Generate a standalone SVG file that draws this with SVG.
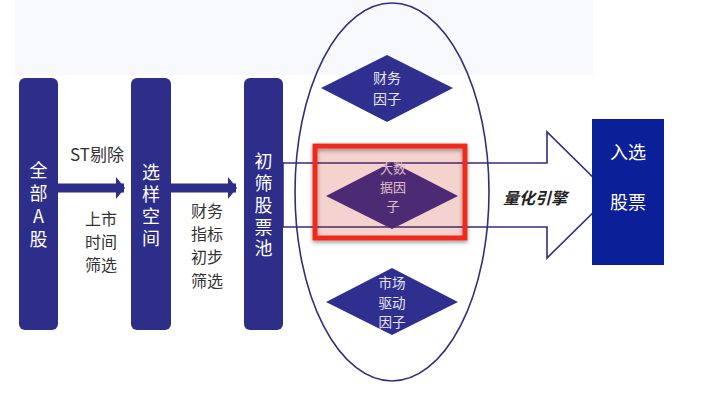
<svg xmlns="http://www.w3.org/2000/svg" width="715" height="404" viewBox="0 0 715 404">
<defs>
<style>
.bar{fill:#2d2d8a}
.dia{fill:#2e2f8f}
.wt{font-family:"Noto Sans CJK SC","Liberation Sans",sans-serif;fill:#ffffff;text-anchor:middle;font-size:18px}
.vt{writing-mode:vertical-rl;text-orientation:upright}
.dt{font-family:"Noto Sans CJK SC","Liberation Sans",sans-serif;fill:#e6e4f2;text-anchor:middle;font-size:14px}
.lb{font-family:"Noto Sans CJK SC","Liberation Sans",sans-serif;fill:#333333;text-anchor:middle;font-size:16px}
.ln{fill:none;stroke:#2e2f7f;stroke-width:1.6}
</style>
<marker id="ah" markerWidth="10" markerHeight="22" refX="8" refY="11" orient="auto" markerUnits="userSpaceOnUse">
<path d="M0,0 L9,11 L0,22 Z" fill="#2d2d8a"/>
</marker>
<filter id="sh" x="-10%" y="-10%" width="120%" height="130%">
<feDropShadow dx="0" dy="2" stdDeviation="2" flood-color="#000" flood-opacity="0.45"/>
</filter>
</defs>
<rect x="0" y="0" width="715" height="404" fill="#ffffff"/>
<rect x="15" y="0" width="578" height="75" fill="#f8f9fc"/>

<g id="ellipse-group">
<ellipse class="ln" cx="392" cy="192" rx="97" ry="189"/>
</g>

<g id="connectors">
<line x1="58" y1="188" x2="124" y2="188" stroke="#2d2d8a" stroke-width="9" marker-end="url(#ah)"/>
<line x1="171" y1="188" x2="236" y2="188" stroke="#2d2d8a" stroke-width="9" marker-end="url(#ah)"/>
<polygon class="ln" points="283,163 547,163 547,132 611,195 547,258 547,227 283,227"/>
<text x="535" y="204" font-family="Noto Sans CJK SC,Liberation Sans,sans-serif" font-size="16" font-weight="bold" font-style="italic" fill="#222" text-anchor="middle">量化引擎</text>
</g>

<g id="node-all">
<rect class="bar" x="19" y="78" width="39" height="252" rx="6"/>
<text class="wt vt" x="38.5" y="207" letter-spacing="5">全部A股</text>
</g>
<text class="lb" x="97" y="161" style="font-size:17px">ST剔除</text>
<text class="lb" x="101" y="225"><tspan x="101">上市</tspan><tspan x="101" dy="23.2">时间</tspan><tspan x="101" dy="23.2">筛选</tspan></text>

<g id="node-sample">
<rect class="bar" x="131" y="78" width="40" height="252" rx="6"/>
<text class="wt vt" x="151" y="207" letter-spacing="4">选样空间</text>
</g>
<text class="lb" x="207" y="217"><tspan x="207">财务</tspan><tspan x="207" dy="23.2">指标</tspan><tspan x="207" dy="23.2">初步</tspan><tspan x="207" dy="23.2">筛选</tspan></text>

<g id="node-pool">
<rect class="bar" x="244" y="78" width="39" height="252" rx="6"/>
<text class="wt vt" x="263.5" y="207" letter-spacing="3.75">初筛股票池</text>
</g>

<g id="node-fin">
<polygon class="dia" points="321,88 387,55 453,88 387,122"/>
<text class="dt" x="387" y="83"><tspan x="387">财务</tspan><tspan x="387" dy="20.5">因子</tspan></text>
</g>

<g id="node-big">
<polygon class="dia" points="326,196 392,162 458,196 392,229"/>
<text class="dt" x="393" y="173" style="font-size:13px"><tspan x="393">大数</tspan><tspan x="393" dy="19">据因</tspan><tspan x="393" dy="19">子</tspan></text>
</g>

<g id="node-market">
<polygon class="dia" points="326,302 392,268 458,302 392,335"/>
<text class="dt" x="392" y="288" style="font-size:13.5px"><tspan x="392">市场</tspan><tspan x="392" dy="19.6">驱动</tspan><tspan x="392" dy="19.6">因子</tspan></text>
</g>

<g id="highlight">
<rect x="315" y="146" width="150" height="92" fill="none" stroke="#f02a1a" stroke-width="4.5" filter="url(#sh)"/>
<rect x="315" y="146" width="150" height="92" fill="#c81e0a" fill-opacity="0.2" stroke="#f02a1a" stroke-width="4.5"/>
</g>

<g id="node-result">
<rect x="592" y="119" width="72" height="146" fill="#0b1f98"/>
<text class="wt" x="628" y="159">入选</text>
<text class="wt" x="628" y="209">股票</text>
</g>
</svg>
